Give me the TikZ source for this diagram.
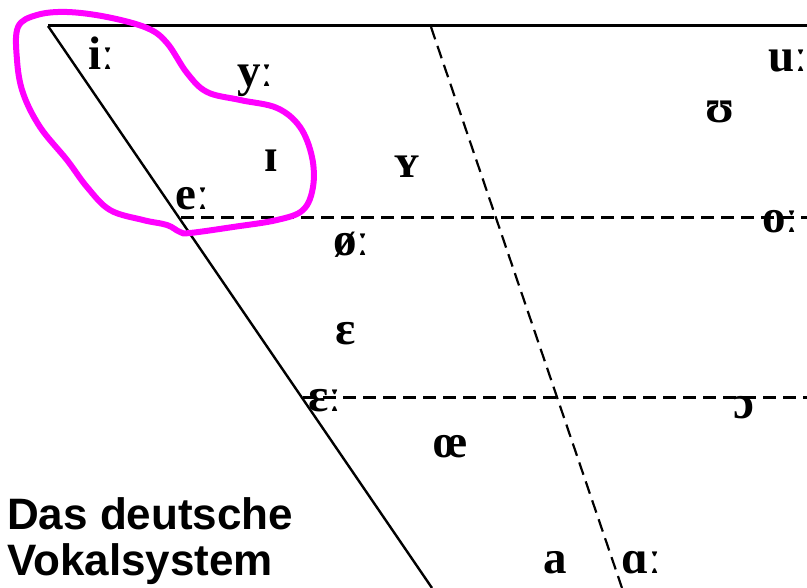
\documentclass[tikz,border=0pt]{standalone}
\usepackage{fontspec}
\newfontfamily\ipafamily{Liberation Serif}
\newfontfamily\titlefamily{Liberation Sans}
\begin{document}
\begin{tikzpicture}[x=1pt,y=-1pt,
  ipa/.style={font=\ipafamily\bfseries\fontsize{47}{47}\selectfont, inner sep=0pt, anchor=base west},
  solidline/.style={line width=2.4pt, black},
  dashline/.style={line width=3pt, black, dash pattern=on 13pt off 7pt},
  blob/.style={line width=6pt, color={rgb,255:red,255;green,0;blue,255}}]
\useasboundingbox (0,0) rectangle (807,588);
% frame coordinates
\coordinate (tl) at (48,26);
\coordinate (tr) at (807,26);
\coordinate (bl) at (432,588);
\coordinate (dt) at (431,27);
\coordinate (db) at (622,588);
\coordinate (h1a) at (181,218);
\coordinate (h1b) at (807,218);
\coordinate (h2a) at (303,398);
\coordinate (h2b) at (807,398);
\draw[solidline, line width=3pt] (tl) -- (tr);
\draw[solidline] (tl) -- (bl);
\draw[dashline, line width=2.2pt] (dt) -- (db);
\draw[dashline] (h1a) -- (h1b);
\draw[dashline] (h2a) -- (h2b);
% labels
\node[ipa] (i) at (88,70) {iː};
\node[ipa] (y) at (237,87) {yː};
\node[ipa] (I) at (264,172) {ɪ};
\node[ipa] (Y) at (394,178) {ʏ};
\node[ipa] (e) at (175,210) {eː};
\node[ipa] (u) at (768,72) {uː};
\node[ipa] (U) at (705,123) {ʊ};
\node[ipa] (o) at (762,233) {oː};
\node[ipa] (oe) at (333,256) {øː};
\node[ipa] (E) at (335,345) {ɛ};
\node[ipa] (EE) at (308,412) {ɛː};
\node[ipa] (O) at (733,418) {ɔ};
\node[ipa] (OE) at (433,457) {œ};
\node[ipa] (a) at (543,573) {a};
\node[ipa] (A) at (621,573) {ɑː};
\node[font=\titlefamily\bfseries\fontsize{44}{46}\selectfont, align=left, inner sep=0pt, anchor=base west] (title) at (7,575) {Das deutsche\\Vokalsystem};
% magenta outline
\draw[blob] plot[smooth cycle, tension=0.6] coordinates {
 (18,27) (37,15) (67,12) (107,17) (147,28) (167,43) (187,73) (207,92)
 (240,100) (277,108) (300,127) (312,157) (313,187) (303,210) (277,220)
 (233,227) (190,233) (180,232) (167,225) (143,220) (110,210) (87,187)
 (67,160) (40,127) (23,93) (17,60)};
\end{tikzpicture}
\end{document}
